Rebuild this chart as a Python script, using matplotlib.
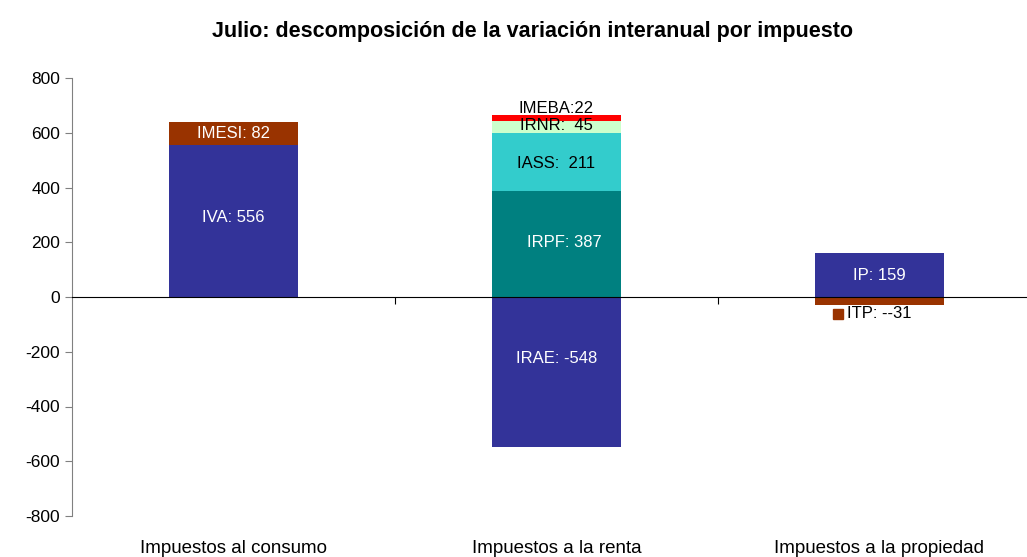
import matplotlib.pyplot as plt
from matplotlib.transforms import blended_transform_factory

plt.rcParams['font.family'] = ['Liberation Sans', 'DejaVu Sans']
plt.rcParams['axes.unicode_minus'] = False

categories = ['Impuestos al consumo', 'Impuestos a la renta', 'Impuestos a la propiedad']

# (category index, name, value, colour, label colour)
positive = [
    (0, 'IVA', 556, '#333399', 'white'),
    (0, 'IMESI', 82, '#993300', 'white'),
    (1, 'IRPF', 387, '#008080', 'white'),
    (1, 'IASS', 211, '#33CCCC', 'black'),
    (1, 'IRNR', 45, '#CCFFCC', 'black'),
    (1, 'IMEBA', 22, '#FF0000', 'black'),
    (2, 'IP', 159, '#333399', 'white'),
]
negative = [
    (1, 'IRAE', -548, '#333399', 'white'),
    (2, 'ITP', -31, '#993300', 'black'),
]

fig = plt.figure(figsize=(10.27, 5.57), dpi=100)
ax = fig.add_axes([72 / 1027, 41 / 557, 969 / 1027, 438 / 557])

width = 0.4
pos_base = [0, 0, 0]
neg_base = [0, 0, 0]
for i, name, val, col, tcol in positive:
    b = pos_base[i]
    ax.bar(i, val, width, bottom=b, color=col, edgecolor='none')
    pos_base[i] += val
    y = b + val / 2
    x = i
    txt = f'{name}: {val}'
    if name == 'IMEBA':
        y = b + val + 25
        txt = f'{name}:{val}'
    elif name == 'IRPF':
        x = i + 0.025
        y = b + 200
    elif name == 'IVA':
        y = b + 290
    elif name == 'IRNR':
        txt = f'{name}:  {val}'
        y = b + 30
    elif name == 'IASS':
        txt = f'{name}:  {val}'
        y = b + 100
    ax.text(x, y, txt, ha='center', va='center', color=tcol, fontsize=12)

for i, name, val, col, tcol in negative:
    b = neg_base[i]
    ax.bar(i, val, width, bottom=b, color=col, edgecolor='none')
    neg_base[i] += val
    if name == 'ITP':
        ax.plot(i - 0.13, b + val - 30, marker='s', color=col, markersize=7)
        ax.text(i - 0.10, b + val - 30, f'{name}: -{val}', ha='left', va='center',
                color=tcol, fontsize=12)
    else:
        ax.text(i, b + val / 2 + 50, f'{name}: {val}', ha='center', va='center',
                color=tcol, fontsize=12)

ax.set_xlim(-0.5, len(categories) - 0.5)
ax.set_ylim(-800, 800)
ax.set_yticks(range(-800, 801, 200))
ax.tick_params(axis='y', labelsize=12.5, length=5, color='#808080')

ax.spines['top'].set_visible(False)
ax.spines['right'].set_visible(False)
ax.spines['left'].set_color('#808080')
ax.spines['bottom'].set_position(('data', 0))
ax.spines['bottom'].set_color('black')
ax.set_xticks([0.5, 1.5])
ax.set_xticklabels([])
ax.tick_params(axis='x', length=5, direction='out', color='black')

trans = blended_transform_factory(ax.transData, ax.transAxes)
for i, c in enumerate(categories):
    ax.text(i, -0.074, c, transform=trans, ha='center', va='center', fontsize=13.5)

fig.text(533 / 1027, 1 - 31 / 557, 'Julio: descomposición de la variación interanual por impuesto',
         ha='center', va='center', fontsize=15.5, fontweight='bold')

fig.savefig('out.png', dpi=100)
